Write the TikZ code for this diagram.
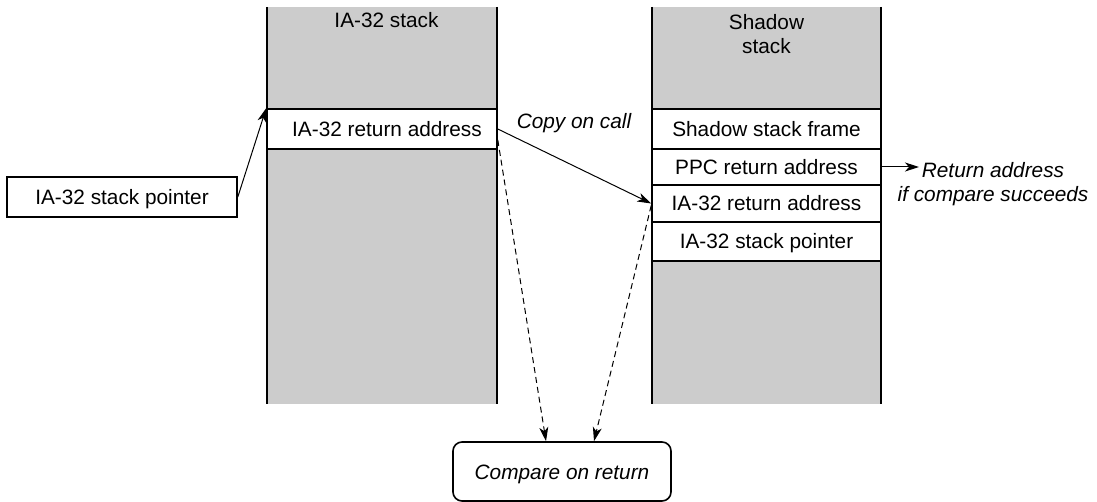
\documentclass[tikz,border=0pt]{standalone}
\usepackage{fontspec}
\setmainfont{Liberation Sans}
\usetikzlibrary{arrows.meta,calc}
\definecolor{stackgray}{HTML}{CCCCCC}
\newcommand\diagfont{\fontsize{20.8}{24}\selectfont}
\begin{document}
\begin{tikzpicture}[x=1pt,y=-1pt,
  every node/.style={font=\diagfont, inner sep=0pt},
  stackarea/.style={fill=stackgray, minimum height=397pt},
  stackline/.style={line width=1.6pt},
  cell/.style={draw, fill=white, line width=1.6pt, text height=15pt, text depth=0pt},
  lbl/.style={font=\diagfont\itshape},
  conn/.style={line width=1pt, -{Stealth[length=14pt,width=9pt,inset=4pt]}},
  dashconn/.style={conn, dash pattern=on 6pt off 4pt}
]
\useasboundingbox (0,0) rectangle (1097,502);

% stacks
\node (lstack) [stackarea, minimum width=230pt] at (382,205.5) {};
\node (rstack) [stackarea, minimum width=229pt] at (766.5,205.5) {};

% cells
\node (lret) [cell, minimum width=230pt, minimum height=40pt] at (382,129) {\hspace*{10pt}IA-32 return address};
\node (f1) [cell, minimum width=229pt, minimum height=40pt] at (766.5,129) {Shadow stack frame};
\node (f2) [cell, minimum width=229pt, minimum height=36pt] at (766.5,167) {PPC return address};
\node (f3) [cell, minimum width=229pt, minimum height=37pt] at (766.5,203.5) {IA-32 return address};
\node (f4) [cell, minimum width=229pt, minimum height=39pt] at (766.5,241.5) {IA-32 stack pointer};

\node (sp) [cell, minimum width=230pt, minimum height=40pt] at (122,197) {IA-32 stack pointer};
\node (cmp) [cell, lbl, rounded corners=9pt, minimum width=218pt, minimum height=59pt] at (562,471.5) {Compare on return};

% stack side lines
\draw[stackline] (lstack.north west) -- (lstack.south west);
\draw[stackline] (lstack.north east) -- (lstack.south east);
\draw[stackline] (rstack.north west) -- (rstack.south west);
\draw[stackline] (rstack.north east) -- (rstack.south east);

% labels
\node (lhead) [anchor=base] at (386.5,27.3) {IA-32 stack};
\node (rhead) [anchor=north, align=center] at (766.5,14.1) {Shadow\\stack};
\node (copy) [lbl] at (574,123) {Copy on call};
\node (ret) [lbl, anchor=north, align=center] at (993,162.1) {Return address\\if compare succeeds};
\coordinate (rt) at (919,167);

% connectors
\draw[conn] (sp.east) -- (lret.north west);
\draw[conn] (lret.east) -- (f3.west);
\draw[conn] (f2.east) -- (rt);
\draw[dashconn] ([yshift=-11pt]lret.east) -- ([xshift=-16pt]cmp.north);
\draw[dashconn] ([yshift=-2pt]f3.west) -- ([xshift=32pt]cmp.north);
\end{tikzpicture}
\end{document}
